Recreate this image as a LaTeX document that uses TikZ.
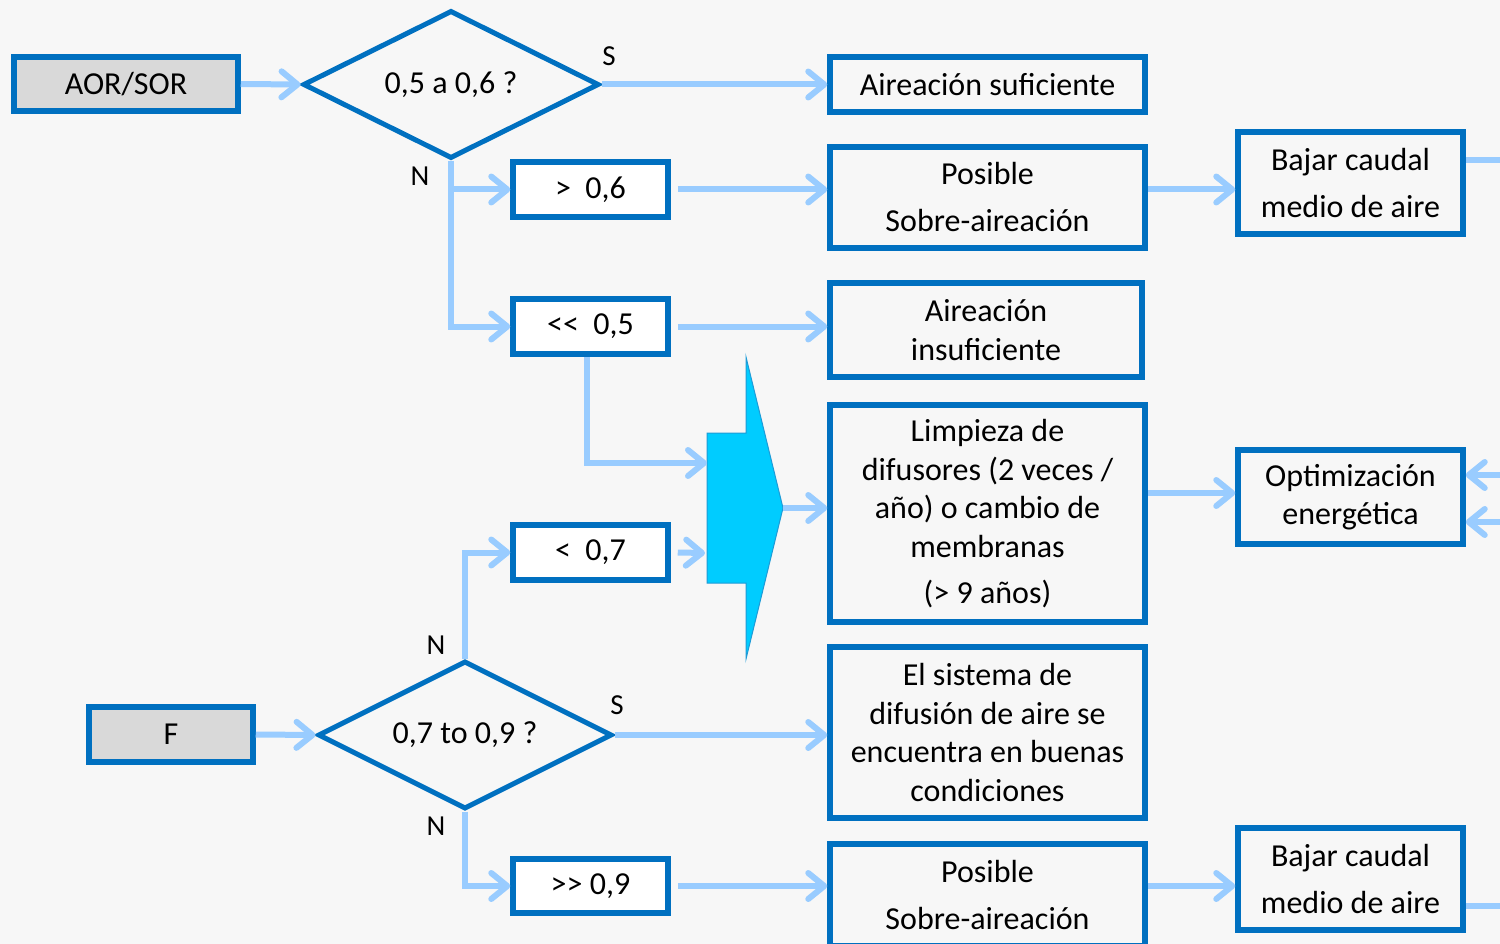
\documentclass[tikz,border=0pt]{standalone}
\usepackage{fontspec}
\setmainfont{Carlito}
\usetikzlibrary{arrows.meta,shapes.geometric,calc}
\definecolor{bbord}{HTML}{0070C0}
\definecolor{barrow}{HTML}{99CCFF}
\definecolor{bgc}{HTML}{F7F7F7}
\definecolor{grayfill}{HTML}{D9D9D9}
\definecolor{bigfill}{HTML}{00CCFF}
\definecolor{bigdraw}{HTML}{1E9BD7}
\begin{document}
\begin{tikzpicture}[x=1pt,y=-1pt,
 box/.style={draw=bbord, line width=5.5pt, inner sep=0pt, align=center, font=\fontsize{32}{38.5}\selectfont},
 wbox/.style={box, fill=white, minimum width=155pt, minimum height=55pt},
 gbox/.style={box, fill=grayfill},
 tall/.style={font=\fontsize{32}{47}\selectfont},
 dia/.style={diamond, aspect=2, draw=bbord, line width=5pt, inner sep=0pt, font=\fontsize{32}{38.5}\selectfont},
 arr/.style={draw=barrow, line width=6pt, -{Straight Barb[length=16pt,width=26pt,round]}},
 ln/.style={draw=barrow, line width=6pt},
 lbl/.style={font=\fontsize{29}{30}\selectfont, inner sep=0pt},
]
\fill[bgc] (0,0) rectangle (1500,944);
\useasboundingbox (0,0) rectangle (1500,944);

% nodes
\node[gbox, minimum width=224pt, minimum height=54pt] (aor) at (126,84) {AOR/SOR};
\node[dia, minimum width=296pt, minimum height=148pt] (d1) at (451,84.5) {0,5 a 0,6 ?};
\node[box, minimum width=315pt, minimum height=55pt] (suf) at (987.5,84.5) {Aireación suficiente};
\node[wbox] (g6) at (590.5,189.5) {>~~0,6};
\node[wbox] (l5) at (590.5,326.5) {<\kern0pt<~~0,5};
\node[box, tall, minimum width=315pt, minimum height=101pt] (pos1) at (987.5,197.5) {Posible\\Sobre-aireación};
\node[box, tall, minimum width=225pt, minimum height=102pt] (baj1) at (1350.5,183) {Bajar caudal\\medio de aire};
\node[box, minimum width=312pt, minimum height=94pt] (ins) at (986,330) {Aireación\\insuficiente};
\node[box, minimum width=315pt, minimum height=217pt] (lim) at (987.5,513.5) {Limpieza de\\difusores (2 veces /\\año) o cambio de\\membranas\\[7.5pt](> 9 años)};
\node[box, minimum width=225pt, minimum height=94pt] (opt) at (1350.5,497) {Optimización\\energética};
\node[wbox] (l7) at (590.5,552.5) {<~~0,7};
\node[dia, minimum width=294pt, minimum height=148pt] (d2) at (465,735) {0,7 to 0,9 ?};
\node[gbox, minimum width=164pt, minimum height=55pt] (f) at (171,734.5) {F};
\node[box, minimum width=315pt, minimum height=171pt] (sis) at (987.5,732.5) {El sistema de\\difusión de aire se\\encuentra en buenas\\condiciones};
\node[wbox, minimum height=54pt] (g9) at (590.5,886) {>\kern0pt> 0,9};
\node[box, tall, minimum width=315pt, minimum height=102pt] (pos2) at (987.5,895) {Posible\\Sobre-aireación};
\node[box, tall, minimum width=225pt, minimum height=102pt] (baj2) at (1350.5,879) {Bajar caudal\\medio de aire};

% labels
\node[lbl] (s1) at (609,56) {S};
\node[lbl] (n1) at (420,176) {N};
\node[lbl] (n2) at (436,645) {N};
\node[lbl] (s2) at (617,705) {S};
\node[lbl] (n3) at (436,826) {N};

% big arrow
\coordinate (bt) at (783,508);
\coordinate (bin1) at (707,463);
\coordinate (bin2) at (705,553);
\filldraw[fill=bigfill, draw=bigdraw, line width=1pt] (707,433) -- (746,433) -- (746,357) -- (bt) -- (746,659) -- (746,583) -- (707,583) -- cycle;

% coordinates for free ends
\coordinate (o1) at (1500,160);
\coordinate (o2) at (1500,906);
\coordinate (i1) at (1500,475);
\coordinate (i2) at (1500,522);
\coordinate (r1) at (1147,493);

% connectors
\draw[arr] (aor.east) -- (d1.west);
\draw[arr] (d1.east) -- (suf.west);
\draw[arr] (d1.south) |- (g6.west);
\draw[arr] (d1.south) |- (l5.west);
\draw[arr] ([xshift=7pt]g6.east) -- (g6.east -| pos1.west);
\draw[arr] (pos1.east |- g6.east) -- (baj1.west |- g6.east);
\draw[ln] (baj1.east |- o1) -- (o1);
\draw[arr] ([xshift=7pt]l5.east) -- (l5.east -| ins.west);
\draw[arr] ([xshift=-3.5pt]l5.south) |- (bin1);
\draw[arr] (bt) -- (bt -| lim.west);
\draw[arr] (lim.east |- r1) -- (opt.west |- r1);
\draw[arr] (i1) -- (opt.east |- i1);
\draw[arr] (i2) -- (opt.east |- i2);
\draw[arr] (d2.north) |- (l7.west);
\draw[arr] ([xshift=7pt]l7.east) -- (bin2);
\draw[arr] (f.east) -- (d2.west);
\draw[arr] (d2.east) -- (d2.east -| sis.west);
\draw[arr] (d2.south) |- (g9.west);
\draw[arr] ([xshift=7pt]g9.east) -- (g9.east -| pos2.west);
\draw[arr] (pos2.east |- g9.east) -- (baj2.west |- g9.east);
\draw[ln] (baj2.east |- o2) -- (o2);
\end{tikzpicture}
\end{document}
